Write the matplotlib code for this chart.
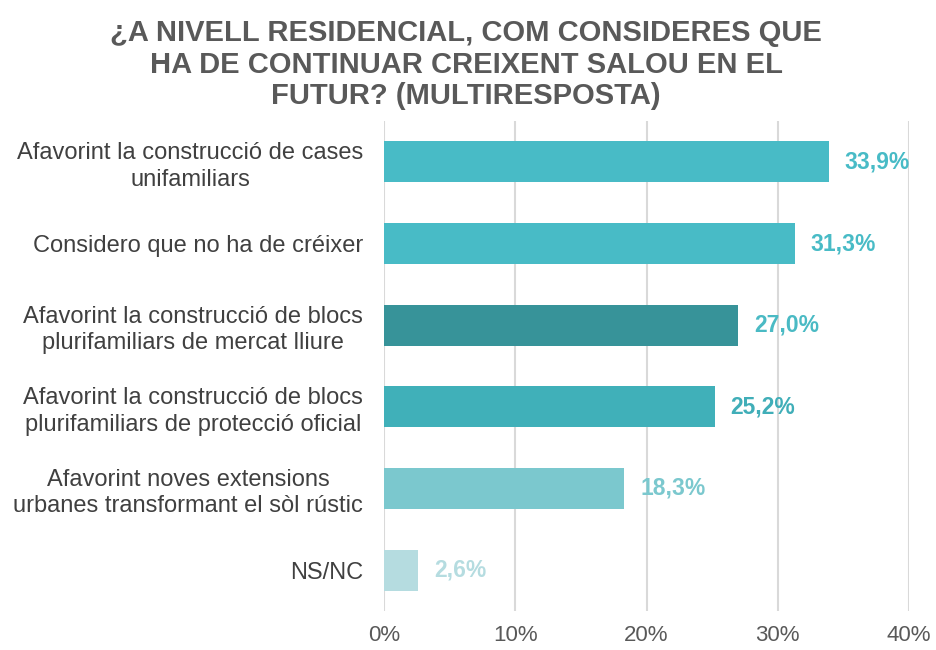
import matplotlib
matplotlib.use('Agg')
import matplotlib.pyplot as plt
from matplotlib.ticker import FuncFormatter


TITLE = '¿A NIVELL RESIDENCIAL, COM CONSIDERES QUE\nHA DE CONTINUAR CREIXENT SALOU EN EL\nFUTUR? (MULTIRESPOSTA)'

categories = [
    'Afavorint la construcció de cases\nunifamiliars',
    'Considero que no ha de créixer',
    'Afavorint la construcció de blocs\nplurifamiliars de mercat lliure',
    'Afavorint la construcció de blocs\nplurifamiliars de protecció oficial',
    'Afavorint noves extensions\nurbanes transformant el sòl rústic',
    'NS/NC',
]
values = [33.9, 31.3, 27.0, 25.2, 18.3, 2.6]
bar_colors = ['#48BBC6', '#48BBC6', '#379399', '#40B0B9', '#7BC8CE', '#B5DCE0']
label_colors = ['#48BBC6', '#48BBC6', '#4ABAC4', '#40AEB8', '#7BC8CE', '#B5DCE0']
x_ticks = [0, 10, 20, 30, 40]


def main():
    plt.rcParams['font.family'] = ['Liberation Sans', 'DejaVu Sans']
    fig = plt.figure(figsize=(9.36, 6.5), dpi=100)
    ax = fig.add_axes([384 / 936, 1 - 611 / 650, (909 - 384) / 936, (611 - 121) / 650])

    pos = list(range(len(categories)))
    ax.barh(pos, values, height=0.5, color=bar_colors, zorder=3)
    for p, v, c in zip(pos, values, label_colors):
        ax.annotate(f'{v:.1f}%'.replace('.', ','), (v, p), xytext=(11.5, 0),
                    textcoords='offset points', va='center', ha='left',
                    fontsize=16.5, fontweight='bold', color=c)

    ax.set_ylim(len(categories) - 0.5, -0.5)
    ax.set_xlim(0, 40)
    ax.set_xticks(x_ticks)
    ax.xaxis.set_major_formatter(FuncFormatter(lambda x, _: f'{x:.0f}%'))
    ax.set_yticks(pos)
    ax.set_yticklabels(categories, multialignment='center', linespacing=1.26)
    ax.tick_params(axis='y', length=0, pad=15, labelsize=17, labelcolor='#404040')
    ax.tick_params(axis='x', length=0, pad=10, labelsize=16, labelcolor='#595959')
    ax.grid(axis='x', color='#D9D9D9', linewidth=1.5, zorder=0)
    for s in ax.spines.values():
        s.set_visible(False)

    fig.text(466 / 936, 1 - 19 / 650, TITLE, ha='center', va='top',
             fontsize=21, fontweight='bold', color='#595959', linespacing=1.17)

    fig.savefig('out.png', dpi=100)


if __name__ == '__main__':
    main()
